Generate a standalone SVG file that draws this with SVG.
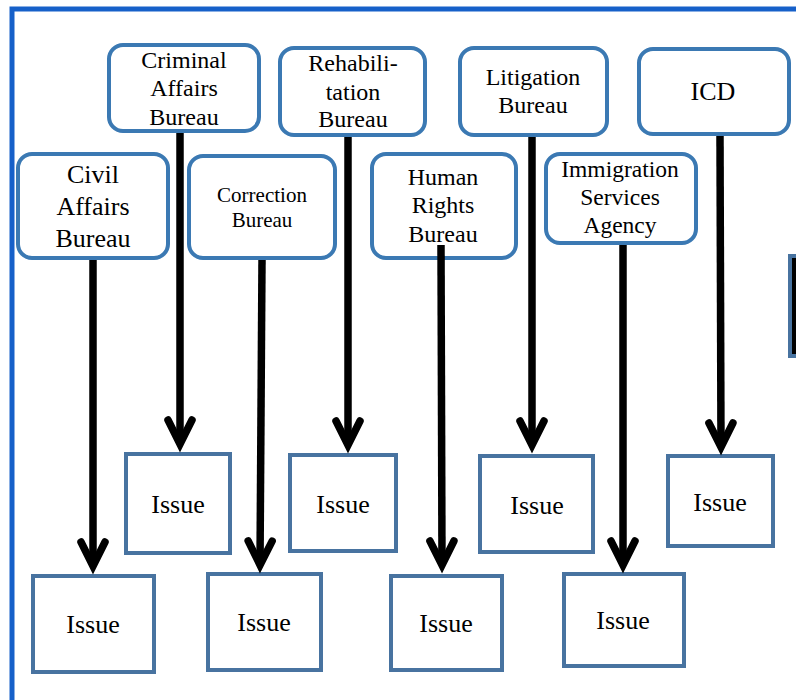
<svg xmlns="http://www.w3.org/2000/svg" width="796" height="700" viewBox="0 0 796 700">
<style>
.frame{fill:none;stroke:#1660c9;stroke-width:5}
.org{fill:#fff;stroke:#3b79b3;stroke-width:4}
.iss{fill:#fff;stroke:#4873a0;stroke-width:4}
.t{fill:#000;text-anchor:middle}
.conn{stroke:#000;stroke-width:7.5;fill:none}
</style>
<defs>
<marker id="chev" markerUnits="userSpaceOnUse" viewBox="-32 -17 46 34" markerWidth="46" markerHeight="34" refX="0" refY="0" orient="auto">
<path d="M-24,-12 L0,0 L-24,12" fill="none" stroke="#000" stroke-width="7.5" stroke-linecap="round" stroke-linejoin="miter" stroke-miterlimit="6"/>
</marker>
</defs>
<rect width="796" height="700" fill="#fff"/>
<rect class="frame" x="12" y="9" width="820" height="720"/>
<g id="odd"><rect x="790" y="256" width="20" height="100" fill="#000" stroke="#4873a0" stroke-width="4"/></g>

<g id="criminal"><rect class="org" x="109" y="45" width="150" height="86" rx="14"/>
<text class="t" font-family="Liberation Serif" font-size="24"><tspan x="184" y="68">Criminal</tspan><tspan x="184" y="96">Affairs</tspan><tspan x="184" y="125">Bureau</tspan></text></g>
<g id="rehab"><rect class="org" x="280" y="48" width="145" height="87" rx="14"/>
<text class="t" font-family="Liberation Serif" font-size="24"><tspan x="353" y="71">Rehabili-</tspan><tspan x="353" y="100">tation</tspan><tspan x="353" y="127">Bureau</tspan></text></g>
<g id="litigation"><rect class="org" x="460" y="48" width="147" height="87" rx="14"/>
<text class="t" font-family="Liberation Serif" font-size="24"><tspan x="533" y="85">Litigation</tspan><tspan x="533" y="113">Bureau</tspan></text></g>
<g id="icd"><rect class="org" x="639" y="49" width="150" height="85" rx="14"/>
<text class="t" font-family="Liberation Serif" font-size="26" x="713" y="100">ICD</text></g>
<g id="civil"><rect class="org" x="18" y="154" width="150" height="104" rx="14"/>
<text class="t" font-family="Liberation Serif" font-size="26"><tspan x="93" y="183">Civil</tspan><tspan x="93" y="215">Affairs</tspan><tspan x="93" y="247">Bureau</tspan></text></g>
<g id="correction"><rect class="org" x="189" y="156" width="146" height="102" rx="14"/>
<text class="t" font-family="Liberation Serif" font-size="21"><tspan x="262" y="202">Correction</tspan><tspan x="262" y="227">Bureau</tspan></text></g>
<g id="human"><rect class="org" x="372" y="154" width="144" height="104" rx="14"/>
<text class="t" font-family="Liberation Serif" font-size="24"><tspan x="443" y="185">Human</tspan><tspan x="443" y="213">Rights</tspan><tspan x="443" y="242">Bureau</tspan></text></g>
<g id="immigration"><rect class="org" x="546" y="154" width="150" height="89" rx="14"/>
<text class="t" font-family="Liberation Serif" font-size="23.5"><tspan x="620" y="177">Immigration</tspan><tspan x="620" y="205">Services</tspan><tspan x="620" y="233">Agency</tspan></text></g>

<g id="issue-criminal"><rect class="iss" x="126" y="454" width="104" height="99"/><text class="t" font-family="Liberation Serif" font-size="26" x="178" y="513">Issue</text></g>
<g id="issue-rehab"><rect class="iss" x="290" y="455" width="106" height="96"/><text class="t" font-family="Liberation Serif" font-size="26" x="343" y="513">Issue</text></g>
<g id="issue-litigation"><rect class="iss" x="480" y="456" width="113" height="96"/><text class="t" font-family="Liberation Serif" font-size="26" x="537" y="514">Issue</text></g>
<g id="issue-icd"><rect class="iss" x="668" y="456" width="105" height="90"/><text class="t" font-family="Liberation Serif" font-size="26" x="720" y="511">Issue</text></g>
<g id="issue-civil"><rect class="iss" x="33" y="576" width="121" height="96"/><text class="t" font-family="Liberation Serif" font-size="26" x="93" y="633">Issue</text></g>
<g id="issue-correction"><rect class="iss" x="208" y="574" width="113" height="96"/><text class="t" font-family="Liberation Serif" font-size="26" x="264" y="631">Issue</text></g>
<g id="issue-human"><rect class="iss" x="391" y="576" width="111" height="94"/><text class="t" font-family="Liberation Serif" font-size="26" x="446" y="632">Issue</text></g>
<g id="issue-immigration"><rect class="iss" x="564" y="574" width="120" height="92"/><text class="t" font-family="Liberation Serif" font-size="26" x="623" y="629">Issue</text></g>

<g id="connectors">
<line class="conn" x1="93" y1="260" x2="93" y2="566" marker-end="url(#chev)"/>
<line class="conn" x1="180" y1="133" x2="180" y2="444" marker-end="url(#chev)"/>
<line class="conn" x1="262" y1="260" x2="260" y2="565" marker-end="url(#chev)"/>
<line class="conn" x1="348" y1="137" x2="348" y2="445" marker-end="url(#chev)"/>
<line class="conn" x1="441" y1="245" x2="442" y2="565" marker-end="url(#chev)"/>
<line class="conn" x1="532" y1="137" x2="532" y2="445" marker-end="url(#chev)"/>
<line class="conn" x1="623" y1="245" x2="623" y2="565" marker-end="url(#chev)"/>
<line class="conn" x1="720" y1="136" x2="721" y2="447" marker-end="url(#chev)"/>
</g>
</svg>
